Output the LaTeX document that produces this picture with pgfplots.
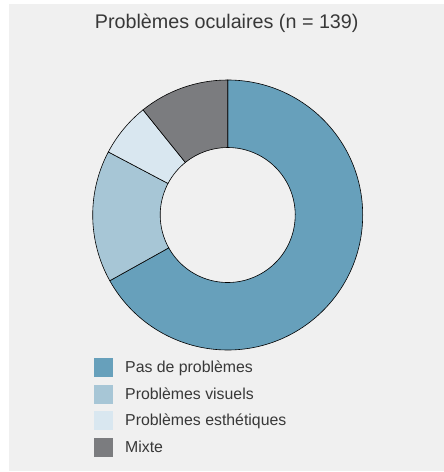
\documentclass[border=0pt]{standalone}
\usepackage{fontspec}
\setmainfont{Liberation Sans}
\usepackage{pgfplots}
\pgfplotsset{compat=1.18}
\definecolor{bg}{HTML}{F0F0F0}
\definecolor{pasc}{HTML}{67A0BB}
\definecolor{visc}{HTML}{A7C6D6}
\definecolor{estc}{HTML}{D9E7F0}
\definecolor{mixc}{HTML}{7B7C7F}
\definecolor{txt}{HTML}{383838}

% one donut slice between two angles (degrees), in axis units (outer r = 1)
\newcommand\slice[3]{%
  \filldraw[fill=#3, draw=black, line width=0.6bp]
    (axis cs:{cos(#1)},{sin(#1)}) arc[start angle=#1, end angle=#2, radius=135bp]
    -- (axis cs:{0.5*cos(#2)},{0.5*sin(#2)}) arc[start angle=#2, end angle=#1, radius=67.5bp]
    -- cycle;}

\begin{document}
\begin{tikzpicture}
\fill[white] (0,0) rectangle (444bp,472bp);
\fill[bg] (9bp,1bp) rectangle (444bp,468bp);

% counts (n = 139)
\def\vA{93}  % Pas de problemes
\def\vB{22}  % Problemes visuels
\def\vC{9}   % Problemes esthetiques
\def\vD{15}  % Mixte
\pgfmathsetmacro\tot{\vA+\vB+\vC+\vD}
\pgfmathsetmacro\aA{90}
\pgfmathsetmacro\aB{\aA-(360/\tot)*\vA}
\pgfmathsetmacro\aC{\aB-(360/\tot)*\vB}
\pgfmathsetmacro\aD{\aC-(360/\tot)*\vC}
\pgfmathsetmacro\aE{\aD-(360/\tot)*\vD}

\begin{axis}[
    at={(227.7bp,257bp)}, anchor=center,
    scale only axis, width=270bp, height=270bp,
    xmin=-1, xmax=1, ymin=-1, ymax=1,
    hide axis, clip=false,
    title={Problèmes oculaires (n = 139)},
    title style={at={(0.5,1)}, anchor=base, yshift=46bp, xshift=-1bp,
                 font=\fontsize{19.8}{23}\selectfont, text=txt},
    legend image code/.code={\fill[#1, draw=none] (0bp,-9.5bp) rectangle (19bp,9.5bp);},
    legend style={at={(axis description cs:0,0)}, anchor=north west,
                  xshift=1.3bp, yshift=-8bp,
                  draw=none, fill=none, inner sep=0pt,
                  font=\fontsize{15.9}{19}\selectfont, text=txt,
                  row sep=7.5bp,
                  nodes={inner sep=0pt},
                  /tikz/every odd column/.append style={column sep=12bp}},
    legend cell align=left,
]
\slice{\aA}{\aB}{pasc}
\slice{\aB}{\aC}{visc}
\slice{\aC}{\aD}{estc}
\slice{\aD}{\aE}{mixc}
\addlegendimage{fill=pasc}
\addlegendentry{Pas de problèmes}
\addlegendimage{fill=visc}
\addlegendentry{Problèmes visuels}
\addlegendimage{fill=estc}
\addlegendentry{Problèmes esthétiques}
\addlegendimage{fill=mixc}
\addlegendentry{Mixte}
\end{axis}
\end{tikzpicture}
\end{document}
